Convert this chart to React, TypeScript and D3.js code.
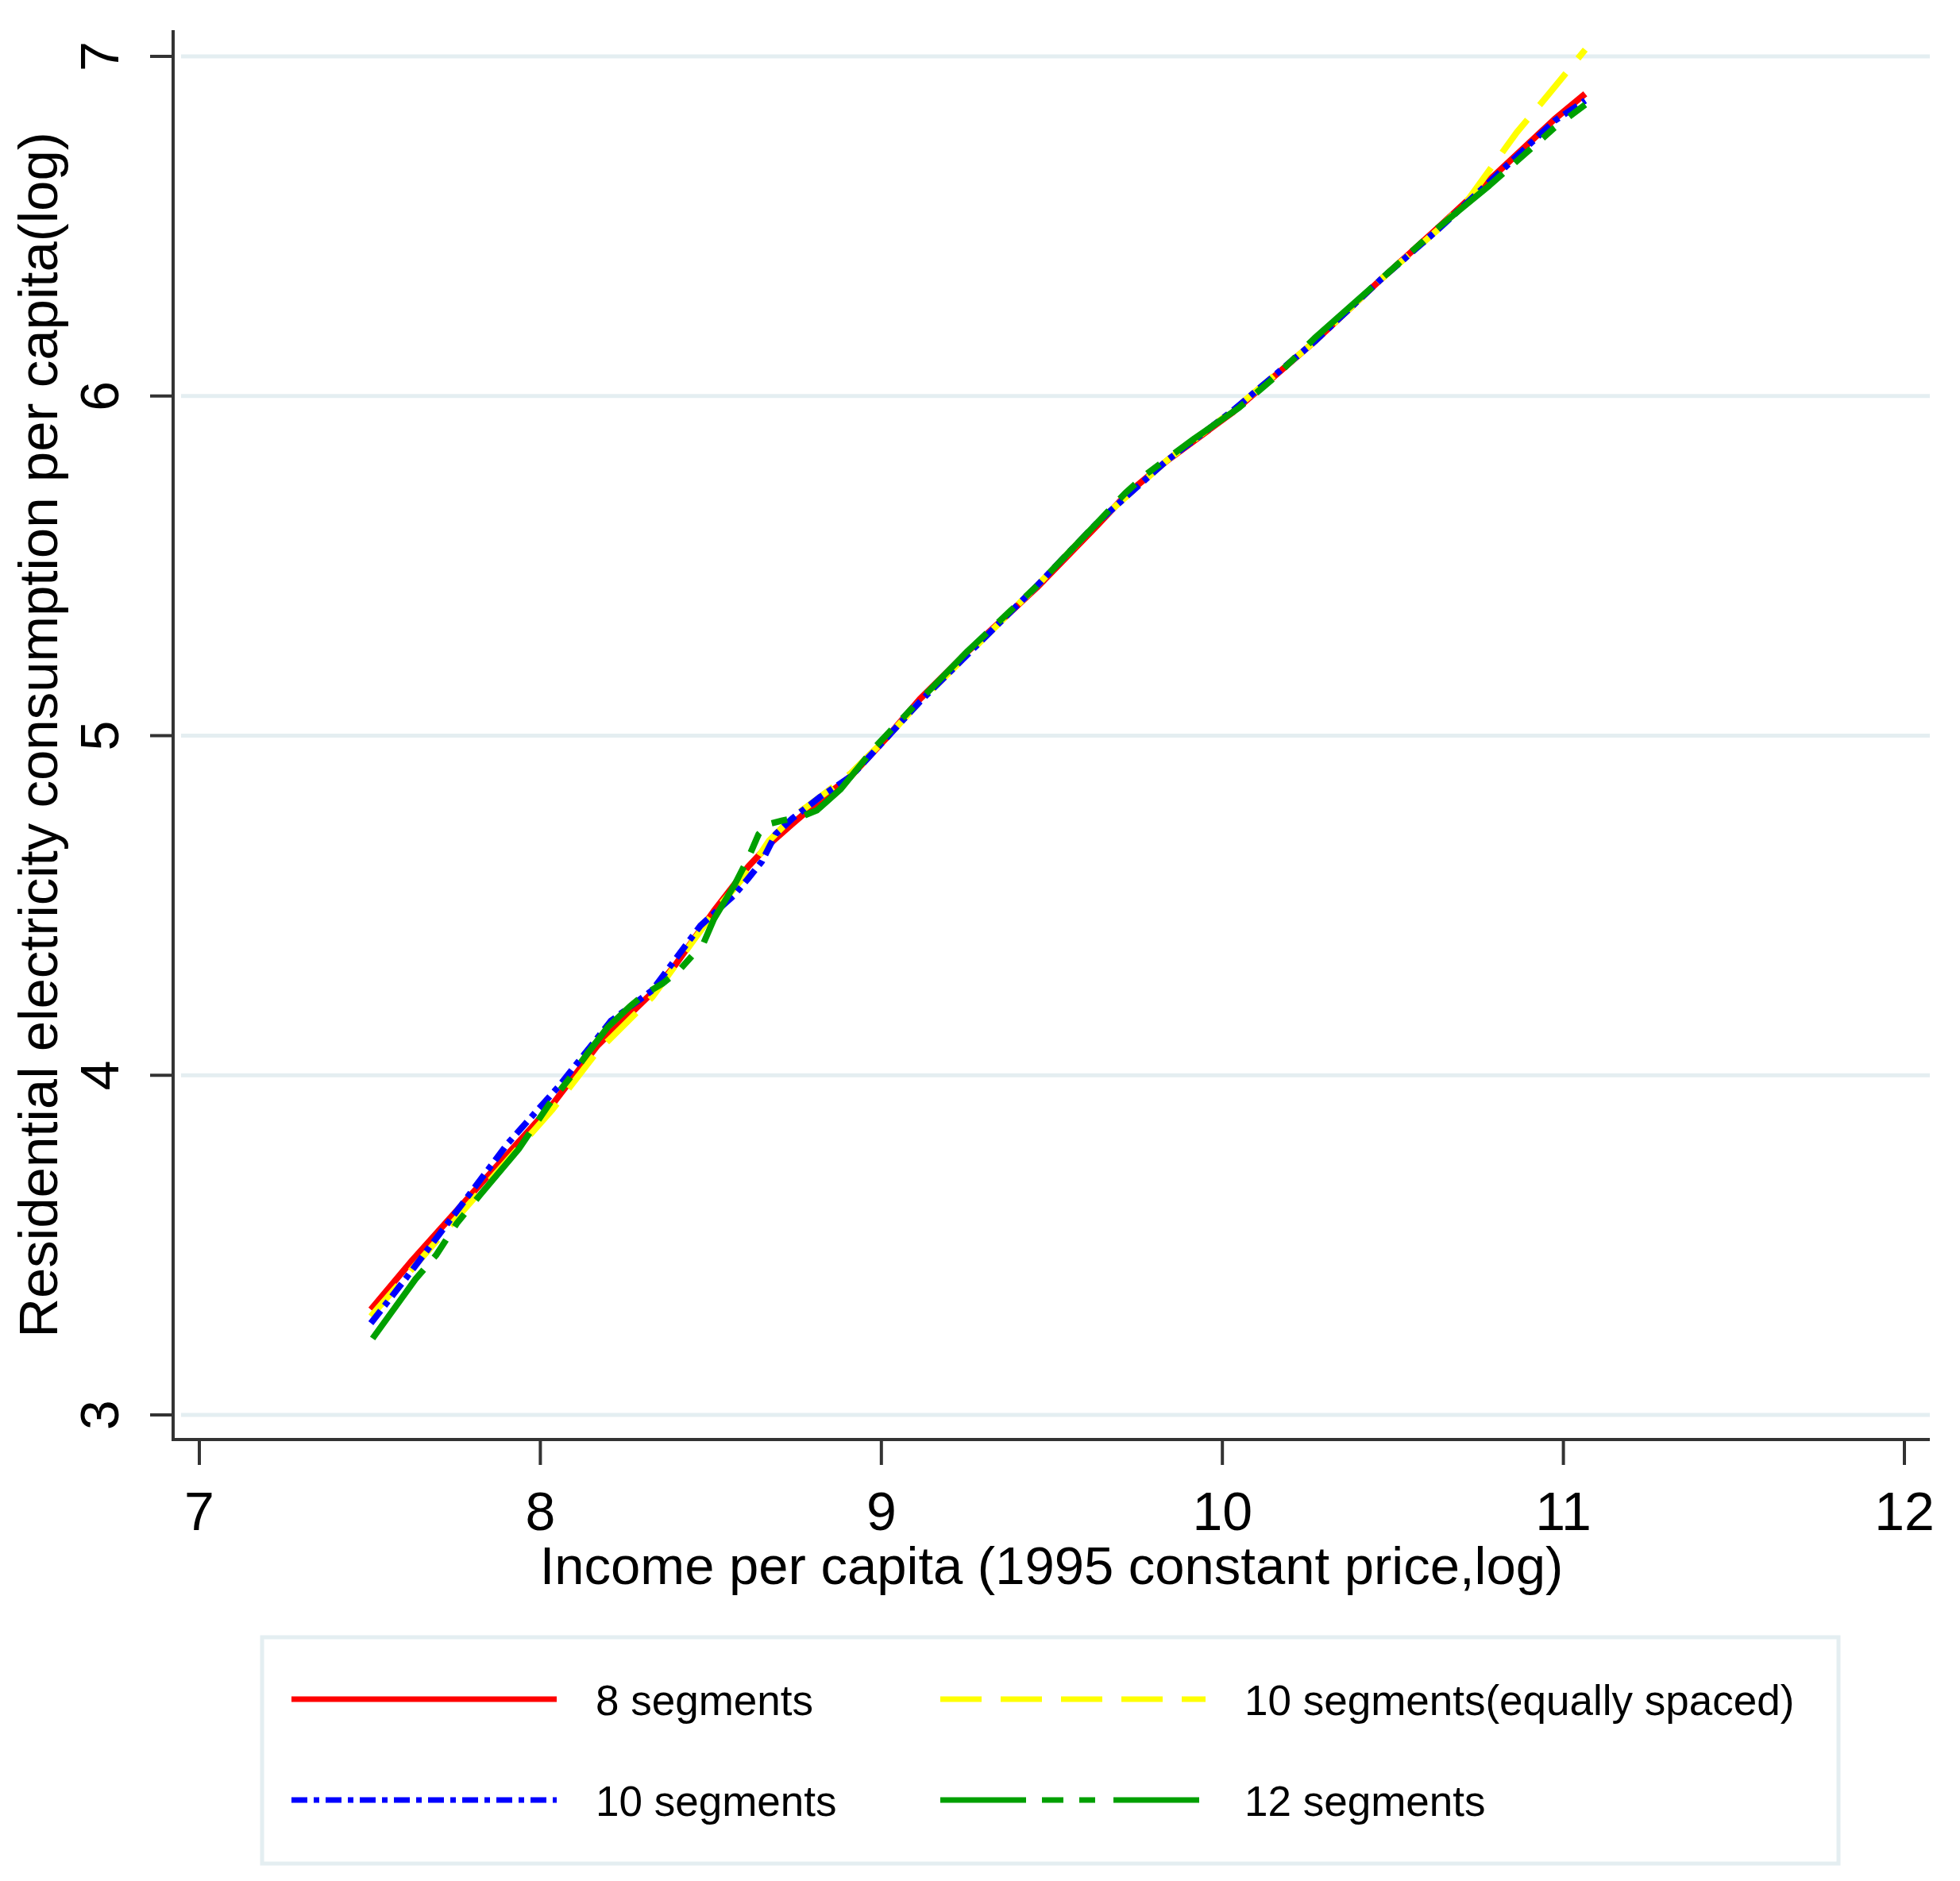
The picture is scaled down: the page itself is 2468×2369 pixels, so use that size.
import React from "react";
import * as d3 from "d3";

// ---- data ----
const xTicks = [7, 8, 9, 10, 11, 12];
const yTicks = [3, 4, 5, 6, 7];

const xTitle = "Income per capita (1995 constant price,log)";
const yTitle = "Residential electricity consumption per capita(log)";

const seriesNames = ["8 segments", "10 segments(equally spaced)", "10 segments", "12 segments"];

// 8 segments
const incomeSeg8 = [7.503, 7.624, 7.825, 8.036, 8.167, 8.328, 8.398, 8.509, 8.610, 8.670, 8.740, 8.821, 8.911, 9.012, 9.113, 9.254, 9.455, 9.636, 9.716, 9.837, 10.028, 10.270, 10.461, 10.632, 10.783, 10.974, 11.064];
const elecSeg8 = [3.31, 3.455, 3.68, 3.915, 4.087, 4.243, 4.328, 4.484, 4.615, 4.679, 4.741, 4.811, 4.881, 4.99, 5.108, 5.248, 5.435, 5.622, 5.708, 5.809, 5.95, 6.16, 6.34, 6.495, 6.636, 6.815, 6.89];

// 10 segments (equally spaced)
const incomeSeg10eq = [7.503, 7.624, 7.825, 8.036, 8.167, 8.328, 8.509, 8.610, 8.670, 8.740, 8.821, 8.911, 9.012, 9.113, 9.455, 9.636, 9.837, 10.028, 10.270, 10.461, 10.632, 10.722, 10.863, 10.954, 11.064];
const elecSeg10eq = [3.29, 3.43, 3.66, 3.90, 4.07, 4.23, 4.48, 4.60, 4.69, 4.76, 4.82, 4.89, 4.99, 5.10, 5.44, 5.63, 5.81, 5.955, 6.16, 6.34, 6.49, 6.58, 6.776, 6.885, 7.02];

// 10 segments
const incomeSeg10 = [7.503, 7.604, 7.755, 7.905, 8.056, 8.207, 8.328, 8.469, 8.569, 8.610, 8.650, 8.690, 8.740, 8.821, 8.911, 9.012, 9.113, 9.455, 9.636, 9.837, 10.028, 10.270, 10.461, 10.632, 10.783, 10.974, 11.064];
const elecSeg10 = [3.27, 3.40, 3.60, 3.80, 3.97, 4.16, 4.25, 4.44, 4.531, 4.58, 4.63, 4.71, 4.757, 4.82, 4.88, 4.99, 5.10, 5.44, 5.63, 5.81, 5.955, 6.16, 6.34, 6.49, 6.63, 6.81, 6.87];

// 12 segments
const incomeSeg12 = [7.508, 7.634, 7.694, 7.755, 7.825, 7.936, 8.026, 8.087, 8.137, 8.197, 8.263, 8.308, 8.358, 8.408, 8.479, 8.509, 8.569, 8.610, 8.640, 8.670, 8.710, 8.761, 8.811, 8.881, 8.982, 9.093, 9.254, 9.455, 9.636, 9.716, 9.777, 9.918, 10.048, 10.159, 10.270, 10.461, 10.632, 10.783, 10.974, 11.064];
const elecSeg12 = [3.225, 3.40, 3.47, 3.564, 3.65, 3.782, 3.915, 3.993, 4.063, 4.141, 4.203, 4.24, 4.27, 4.31, 4.39, 4.46, 4.56, 4.64, 4.71, 4.74, 4.75, 4.76, 4.78, 4.843, 4.967, 5.084, 5.25, 5.44, 5.63, 5.715, 5.77, 5.875, 5.965, 6.06, 6.17, 6.34, 6.495, 6.62, 6.79, 6.858];

const seriesX = [incomeSeg8, incomeSeg10eq, incomeSeg10, incomeSeg12];
const seriesY = [elecSeg8, elecSeg10eq, elecSeg10, elecSeg12];

// ---- styles ----
const colors = ["#ff0000", "#ffff00", "#0000ff", "#00a000"];
const dashes = ["none", "52 24", "20 8 7 8", "108 20 27 20 20 23"];

const FONT = "'Liberation Sans', Arial, Helvetica, sans-serif";

export default function App() {
  const W = 2468;
  const H = 2369;
  const x = d3.scaleLinear().domain([7, 12]).range([251, 2398]);
  const y = d3.scaleLinear().domain([3, 7]).range([1782, 71]);

  const plotLeft = 218;
  const plotRight = 2430;
  const plotTop = 38;
  const plotBottom = 1813;
  const axisColor = "#333333";

  const line = d3
    .line<[number, number]>()
    .x((d) => x(d[0]))
    .y((d) => y(d[1]));

  const legendCols = [367, 1184];
  const legendRows = [2140, 2267];
  const sampleLen = 334;

  return (
    <svg
      width={W}
      height={H}
      viewBox={`0 0 ${W} ${H}`}
      style={{ position: "absolute", left: 0, top: 0, display: "block", background: "#ffffff" }}
      fontFamily={FONT}
    >
      <rect x={0} y={0} width={W} height={H} fill="#ffffff" />

      {/* gridlines */}
      {yTicks.map((t) => (
        <line key={"g" + t} x1={plotLeft + 10} x2={plotRight} y1={y(t)} y2={y(t)} stroke="#e4eef1" strokeWidth={5} />
      ))}

      {/* series */}
      {seriesX.map((xs, i) => {
        const pts = xs.map((v, j) => [v, seriesY[i][j]] as [number, number]);
        return (
          <path
            key={"s" + i}
            d={line(pts) || ""}
            fill="none"
            stroke={colors[i]}
            strokeWidth={8}
            strokeDasharray={dashes[i]}
            strokeLinejoin="round"
          />
        );
      })}

      {/* axes */}
      <line x1={plotLeft} x2={plotLeft} y1={plotTop} y2={plotBottom + 2} stroke={axisColor} strokeWidth={4} />
      <line x1={plotLeft - 2} x2={plotRight} y1={plotBottom} y2={plotBottom} stroke={axisColor} strokeWidth={4} />

      {yTicks.map((t) => (
        <g key={"yt" + t}>
          <line x1={plotLeft - 29} x2={plotLeft} y1={y(t)} y2={y(t)} stroke={axisColor} strokeWidth={4} />
          <text
            transform={`translate(${149},${y(t)}) rotate(-90)`}
            textAnchor="middle"
            fontSize={68}
            fill="#000"
          >
            {t}
          </text>
        </g>
      ))}

      {xTicks.map((t) => (
        <g key={"xt" + t}>
          <line x1={x(t)} x2={x(t)} y1={plotBottom} y2={plotBottom + 32} stroke={axisColor} strokeWidth={4} />
          <text x={x(t)} y={1927} textAnchor="middle" fontSize={68} fill="#000">
            {t}
          </text>
        </g>
      ))}

      {/* axis titles */}
      <text x={(plotLeft + plotRight) / 2} y={1995} textAnchor="middle" fontSize={67} fill="#000">
        {xTitle}
      </text>
      <text
        transform={`translate(${72},${(plotTop + plotBottom) / 2}) rotate(-90)`}
        textAnchor="middle"
        fontSize={69}
        fill="#000"
      >
        {yTitle}
      </text>

      {/* legend */}
      <rect x={330} y={2062} width={1985} height={285} fill="#ffffff" stroke="#e4eef1" strokeWidth={5} />
      {seriesNames.map((name, i) => {
        const cx = legendCols[i % 2];
        const cy = legendRows[Math.floor(i / 2)];
        return (
          <g key={"l" + i}>
            <line
              x1={cx}
              x2={cx + sampleLen}
              y1={cy}
              y2={cy}
              stroke={colors[i]}
              strokeWidth={7}
              strokeDasharray={dashes[i]}
            />
            <text x={cx + 383} y={cy + 20} fontSize={53} fill="#000">
              {name}
            </text>
          </g>
        );
      })}
    </svg>
  );
}
